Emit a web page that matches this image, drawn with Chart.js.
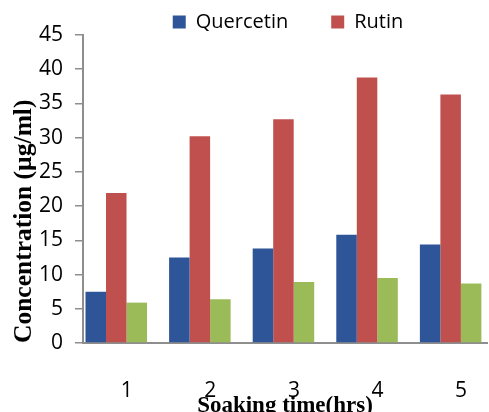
<!DOCTYPE html>
<html>
<head>
<meta charset="utf-8">
<script src="https://cdn.jsdelivr.net/npm/chart.js@4.4.1/dist/chart.umd.min.js"></script>
<style>
  html, body { margin: 0; padding: 0; background: #fff; }
  #wrap { width: 489px; height: 412px; }
</style>
</head>
<body>
<div id="wrap"><canvas id="bar-chart"></canvas></div>
<script>
// soaking time (hrs)
const hours = ["1", "2", "3", "4", "5"];
// concentration (µg/ml)
const quercetin = [7.5, 12.5, 13.8, 15.8, 14.4];
const rutin = [21.9, 30.2, 32.7, 38.8, 36.3];
const third = [5.9, 6.4, 8.9, 9.5, 8.7];

// legend shows quercetin, an empty slot, then rutin
const legendOrder = [0, 2, 1];

const axisGrey = "#8e8e8e";
const tickFont = { family: "'Open Sans'", size: 21 };
const titleFont = { family: "'Liberation Serif'", weight: "bold" };

function points(values) {
  return values.map((v, i) => ({ x: i + 1, y: v }));
}

// nudge the legend a little, like the original
const legendNudge = {
  id: "legendNudge",
  afterLayout(chart) {
    const lg = chart.legend;
    lg.left += 3;
    lg.right += 3;
    lg.top += 2;
    lg.bottom += 2;
  },
};

var config = {
  type: "bar",
  data: {
    datasets: [
      {
        label: "Quercetin",
        backgroundColor: "#2e5597",
        borderWidth: 0,
        data: points(quercetin),
      },
      {
        label: "Rutin",
        backgroundColor: "#c0504d",
        borderWidth: 0,
        data: points(rutin),
      },
      {
        label: "",
        backgroundColor: "#9bbb59",
        borderWidth: 0,
        data: points(third),
      },
    ],
  },
  options: {
    responsive: true,
    maintainAspectRatio: false,
    animation: false,
    categoryPercentage: 0.736,
    barPercentage: 1,
    layout: { padding: { right: 2 } },
    plugins: {
      tooltip: { enabled: false },
      legend: {
        position: "top",
        fullSize: false,
        maxHeight: 35,
        labels: {
          boxWidth: 13,
          boxHeight: 13,
          padding: 10,
          color: "#000",
          font: { family: "'Open Sans'", size: 20 },
          generateLabels(chart) {
            const items = Chart.defaults.plugins.legend.labels.generateLabels(chart);
            items.forEach((it) => {
              it.lineWidth = 0;
              if (it.datasetIndex === 2) {
                it.text = "";
                it.fillStyle = "rgba(0,0,0,0)";
              }
            });
            return items;
          },
          sort: (a, b) => legendOrder.indexOf(a.datasetIndex) - legendOrder.indexOf(b.datasetIndex),
        },
      },
    },
    scales: {
      x: {
        type: "linear",
        bounds: "data",
        min: 0.602,
        max: 5.435,
        offset: false,
        afterBuildTicks: (s) => {
          s.ticks = hours.map((h, i) => ({ value: i + 1.125 }));
        },
        afterFit: (s) => {
          s.height = 69;
        },
        ticks: {
          padding: 2,
          color: "#000",
          font: tickFont,
          maxRotation: 0,
          autoSkip: false,
          callback: (v, i) => hours[i],
        },
        // invisible tick marks push the labels down without shrinking the plot
        grid: {
          display: true,
          drawOnChartArea: false,
          drawTicks: true,
          tickLength: 33,
          color: "rgba(0,0,0,0)",
        },
        border: { display: true, color: axisGrey, width: 2 },
        title: {
          display: true,
          text: "Soaking time(hrs)",
          color: "#000",
          font: Object.assign({ size: 23, lineHeight: 0.5 }, titleFont),
          padding: 0,
        },
      },
      y: {
        min: 0,
        max: 45,
        afterFit: (s) => {
          s.width = 83;
        },
        ticks: { stepSize: 5, padding: 12, color: "#000", font: tickFont },
        grid: {
          drawOnChartArea: false,
          drawTicks: true,
          tickLength: 8,
          color: axisGrey,
          lineWidth: 1.5,
        },
        border: { display: true, color: axisGrey, width: 2 },
        title: {
          display: true,
          text: "Concentration (µg/ml)",
          align: "start",
          color: "#000",
          font: Object.assign({ size: 25.5 }, titleFont),
          padding: { top: 9, bottom: 0 },
        },
      },
    },
  },
  plugins: [legendNudge],
};

var ctx = document.getElementById("bar-chart").getContext("2d");
window.myBar = new Chart(ctx, config);
</script>
</body>
</html>
